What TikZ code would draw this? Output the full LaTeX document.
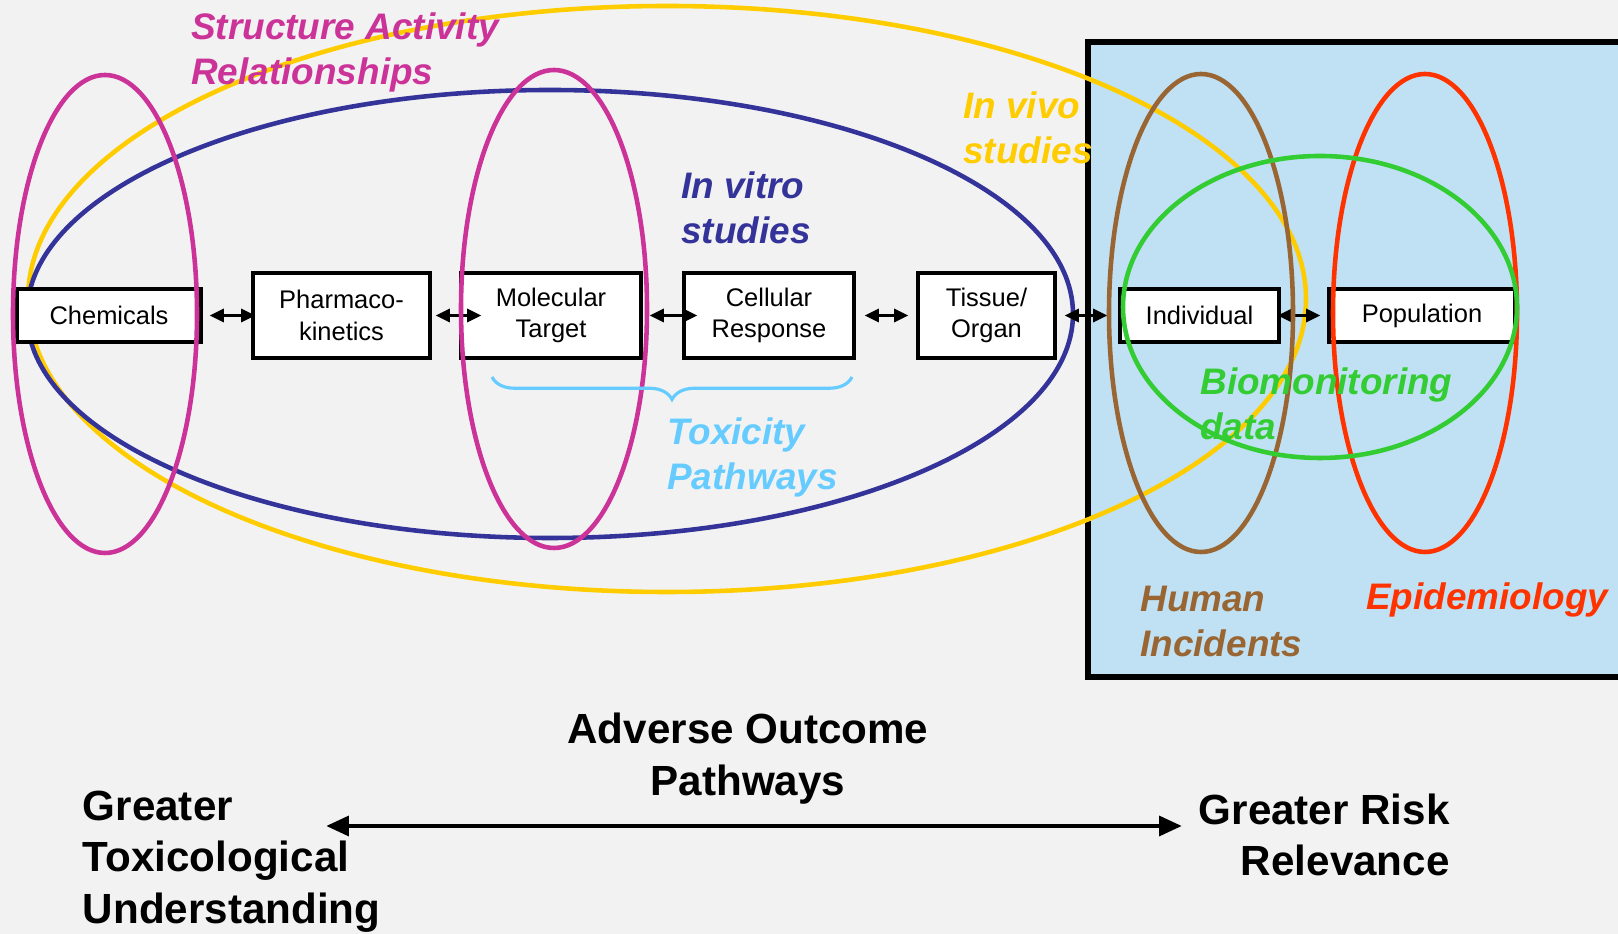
\documentclass[tikz,border=0pt]{standalone}
\usepackage{fontspec}
\setmainfont{Liberation Sans}
\usetikzlibrary{arrows.meta,decorations.pathreplacing}

\definecolor{pagegray}{RGB}{242,242,242}
\definecolor{humanbox}{RGB}{191,225,243}
\definecolor{sarmagenta}{RGB}{204,51,153}
\definecolor{vitroblue}{RGB}{51,51,153}
\definecolor{vivoyellow}{RGB}{255,204,0}
\definecolor{humanbrown}{RGB}{153,102,51}
\definecolor{epired}{RGB}{255,51,0}
\definecolor{biogreen}{RGB}{51,204,51}
\definecolor{toxblue}{RGB}{102,204,255}

\begin{document}
\begin{tikzpicture}[
    stage/.style={draw, line width=2pt, fill=white, inner sep=0pt, minimum height=1.7cm,
        align=center, font=\fontsize{14.5}{18}\selectfont},
    linkarrow/.style={{Triangle[length=8pt,width=7.5pt]}-{Triangle[length=8pt,width=7.5pt]}, line width=1.6pt},
    tag/.style={anchor=west, align=left, inner sep=0pt, font=\fontsize{21}{25.6}\selectfont\bfseries\itshape},
    axislabel/.style={inner sep=0pt, font=\fontsize{24}{29.3}\selectfont\bfseries},
    ring/.style={line width=2.6pt}
]

    \useasboundingbox (0,0) rectangle (32.36,18.68);
    \fill[pagegray] (0,0) rectangle (32.36,18.68);

    %The human data box
    \draw[line width=3.4pt, fill=humanbox] (21.76,5.14) rectangle (32.8,17.84);

    %In vivo and in vitro
    \draw[ring, vivoyellow] (13.34,12.70) ellipse (12.78 and 5.86);
    \draw[ring, vitroblue] (11.0,12.40) ellipse (10.46 and 4.48);

    %The stages
    \node[stage, minimum width=3.68cm, minimum height=1.06cm] (chem) at (2.18,12.37) {Chemicals};
    \node[stage, minimum width=3.54cm] (pharma) at (6.83,12.37) {Pharmaco-\\kinetics};
    \node[stage, minimum width=3.6cm] (target) at (11.02,12.37) {Molecular\\Target};
    \node[stage, minimum width=3.4cm] (cell) at (15.38,12.37) {Cellular\\Response};
    \node[stage, minimum width=2.74cm] (organ) at (19.73,12.37) {Tissue/\\Organ};
    \node[stage, minimum width=3.18cm, minimum height=1.06cm] (indiv) at (23.99,12.37) {Individual};
    \node[stage, minimum width=3.72cm, minimum height=1.06cm] (popul) at (28.44,12.37) {Population};

    \draw[linkarrow, shorten <=0.14cm, shorten >=-0.08cm] (chem) -- (pharma);
    \draw[linkarrow, shorten <=0.08cm, shorten >=-0.44cm] (pharma) -- (target);
    \draw[linkarrow, shorten <=0.14cm, shorten >=-0.30cm] (target) -- (cell);
    \draw[linkarrow, shorten <=0.18cm, shorten >=0.16cm] (cell) -- (organ);
    \draw[linkarrow, shorten <=0.16cm, shorten >=0.22cm] (organ) -- (indiv);
    \draw[linkarrow, shorten <=-0.06cm, shorten >=0.14cm] (indiv) -- (popul);

    %Rings over the stages
    \draw[ring, sarmagenta] (2.10,12.40) ellipse (1.84 and 4.78);
    \draw[ring, sarmagenta] (11.08,12.50) ellipse (1.86 and 4.78);
    \draw[ring, humanbrown] (24.02,12.42) ellipse (1.84 and 4.78);
    \draw[ring, epired] (28.50,12.42) ellipse (1.84 and 4.78);
    \draw[ring, biogreen] (26.40,12.54) ellipse (3.94 and 3.02);

    \draw[toxblue, line width=1.8pt, decorate, decoration={brace, mirror, amplitude=0.45cm}]
        (9.84,11.14) -- (17.04,11.14);

    \node[tag, text=sarmagenta] (sar) at (3.82,17.64) {Structure Activity\\Relationships};
    \node[tag, text=vitroblue] (vitro) at (13.62,14.52) {In vitro\\studies};
    \node[tag, text=vivoyellow] (vivo) at (19.26,16.12) {In vivo\\studies};
    \node[tag, text=toxblue] (toxpath) at (13.34,9.53) {Toxicity\\Pathways};
    \node[tag, text=biogreen] (biomon) at (24.0,10.60) {Biomonitoring\\data};
    \node[tag, text=humanbrown] (human) at (22.8,6.25) {Human\\Incidents};
    \node[tag, text=epired] (epi) at (27.32,6.69) {Epidemiology};

    %The axis
    \node[axislabel, align=center] (aop) at (14.96,3.51) {Adverse Outcome\\Pathways};
    \node[axislabel, anchor=west, align=left] (tox) at (1.65,1.45) {Greater\\Toxicological\\Understanding};
    \node[axislabel, anchor=east, align=right] (risk) at (29.0,1.98) {Greater Risk\\Relevance};

    \coordinate (toxend) at (6.52,2.16);
    \coordinate (riskend) at (23.64,2.16);
    \draw[{Triangle[length=13pt,width=11pt]}-{Triangle[length=13pt,width=11pt]}, line width=2.8pt]
        (toxend) -- (riskend);

\end{tikzpicture}
\end{document}
